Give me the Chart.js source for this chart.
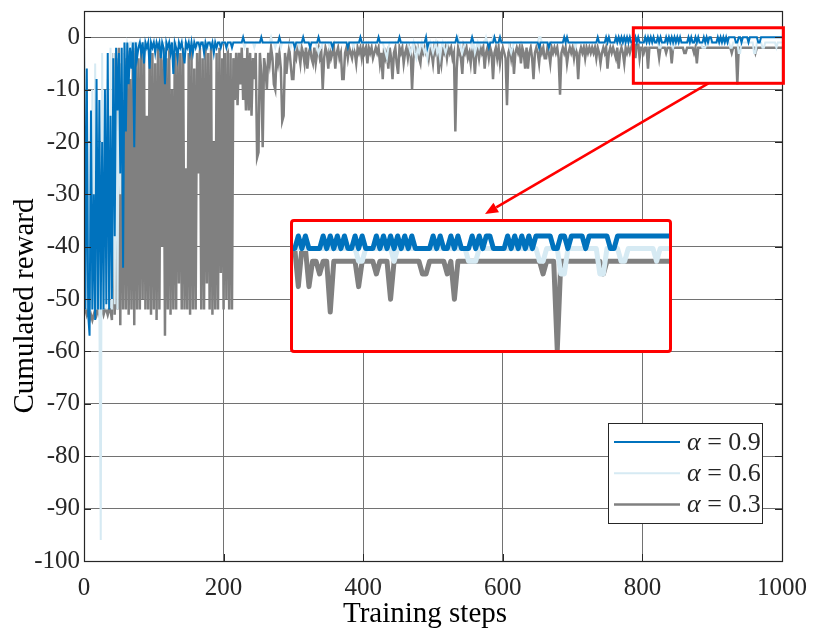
<!DOCTYPE html>
<html><head><meta charset="utf-8">
<script src="https://cdn.jsdelivr.net/npm/chart.js@4.4.0/dist/chart.umd.min.js"></script>
<style>
html,body{margin:0;padding:0;background:#fff;}
#wrap{position:relative;width:817px;height:632px;overflow:hidden;}
#main{position:absolute;left:0;top:0;}
#insetBox{position:absolute;left:290px;top:219px;width:376px;height:128px;border:3px solid #ff0000;border-radius:4px;background:#fff;}
#inset{position:absolute;left:0;top:0;}
</style></head>
<body>
<div id="wrap">
<canvas id="main" width="817" height="632"></canvas>
<div id="insetBox"><canvas id="inset" width="376" height="128"></canvas></div>
</div>
<script>
// ---- data (one value every 2 training steps, 0..1000) ----
const steps = Array.from({length: 501}, (_, i) => i * 2);
const seriesLabels = ['α = 0.9', 'α = 0.6', 'α = 0.3'];
const xTicks = [0, 200, 400, 600, 800, 1000];
const yTicks = [-100, -90, -80, -70, -60, -50, -40, -30, -20, -10, 0];

const alpha09 = [
-1,-52,-6,-53,-57,-14,-52,-30,-54,-8,
-52,-12,-52,-20,-52,-10,-51,-3,-52,-15,
-50,-4,-38,-2,-14,-3,-26,-2,-44,-1,
-18,-1,-9,-2,-6,-1,-21,-1,-4,-2,
-1,-3,-1,-5,-1,-2,-1,-6,-1,-2,
-1,-3,-1,-2,-1,-4,-1,-2,-9,-1,
-2,-1,-3,-1,-7,-1,-2,-4,-1,-2,
-1,-3,-5,-1,-2,-1,-3,-1,-3,-1,
-2,-1,-1,-2,-1,-1,-3,-1,-2,-1,
-1,-2,-1,-3,-1,-2,-1,-1,-2,-1,
-1,-1,-2,-1,-1,-1,-2,-1,-1,-1,
-1,-1,-1,-1,0,-1,-1,-1,-1,-1,
-1,-1,-1,-1,-1,-1,-1,0,-1,-1,
-1,-1,-1,-1,-1,-1,-1,-1,-1,-1,
0,-1,-1,-1,-1,-1,-1,-1,-1,-1,
-1,-2,-1,-1,-1,-1,-1,0,-1,-1,
-1,-1,-2,-1,-1,-1,-1,-1,0,-1,
-1,-1,-1,-1,-1,-1,-1,-1,-2,-1,
-1,-1,-1,-1,-1,-1,-1,-1,-1,-2,
-1,-1,-1,-1,-1,-1,-1,-1,0,-1,
-1,-1,-1,-1,-1,-1,-1,-1,-1,-1,
-1,0,-1,-1,-1,-1,-1,-1,-1,-1,
-1,-1,-1,-1,-1,-1,0,-1,-1,-1,
-1,-1,-1,-1,-1,-1,-1,-1,-1,-1,
-1,-1,-1,-1,-1,0,-2,-1,-1,-1,
-1,-1,-1,-1,-1,-1,-1,-1,-1,-1,
-1,-1,-1,-1,-1,-1,-1,0,-1,-1,
-1,-1,-1,-1,-1,-1,-1,-1,0,-1,
-1,-1,-1,-1,-1,-1,-1,-1,-1,-1,
-2,-1,-1,-1,0,-1,-1,-1,0,-1,
-1,-1,-1,-1,-1,-1,-1,-1,-1,-1,
-1,-1,-1,-1,-1,-1,-1,-1,-1,-1,
-1,-1,-1,-1,-1,-1,-2,-1,-1,-1,
-1,-1,-1,-2,-1,-1,-1,-1,-1,-1,
-1,-1,-1,-1,0,-1,0,-1,-1,-1,
-1,-1,-1,-1,-1,-1,-1,-1,-1,-1,
-1,-1,-1,-1,-1,-1,-1,-1,0,-1,
-1,-1,-1,-1,0,-1,0,-1,-1,-1,
-1,0,-1,0,-1,0,-1,0,-1,0,
-1,0,-1,-1,-1,0,-1,0,-1,-1,
-1,-1,0,-1,0,-1,0,-1,0,-1,
-1,0,-1,0,-1,-1,-1,0,-1,0,
-1,0,-1,0,-1,0,-1,0,-1,-1,
-1,-1,-1,0,-1,0,-1,-1,0,-1,
0,-1,-1,-1,0,-1,0,-1,0,0,
-1,-1,-1,-1,0,-1,0,-1,0,-1,
0,-1,0,0,0,0,0,-1,-1,0,
0,-1,0,0,0,0,-1,0,0,0,
0,0,0,-1,-1,0,0,0,0,0,
0,0,0,0,0,0,0,0,0,0,
0];

const alpha06 = [
-1,-52,-8,-52,-30,-52,-10,-52,-5,-52,
-20,-52,-96,-3,-52,-12,-52,-8,-50,-2,
-52,-3,-51,-6,-52,-4,-30,-2,-12,-1,
-4,-1,-2,-1,-1,-3,-1,-1,-2,-1,
-1,-2,-1,-1,-3,-1,-1,-2,-1,-1,
-1,-1,-2,-1,-1,-1,-3,-1,-1,-1,
-1,-2,-1,-1,-1,-2,-1,-1,-1,-1,
-1,-1,-1,-2,-1,-1,-1,-1,-2,-1,
-1,-1,-2,-1,-1,-1,-1,-1,-1,-2,
-1,-1,-1,-1,-2,-1,-1,-1,-1,-1,
-1,-1,-1,-2,-1,-1,-1,-1,-1,-1,
-1,-1,-1,-1,-1,-2,-1,-1,-1,-1,
-1,-1,-2,-1,-1,-1,-1,-1,-1,-1,
-1,-1,-1,-1,0,-1,-1,-2,-1,-1,
-1,-2,-1,-1,-1,-1,-1,-1,-2,-1,
-1,-1,-1,-1,-2,-1,-1,-1,-1,-1,
-1,-1,-1,-1,-1,-1,-1,-2,-3,-2,
-2,-1,-1,-1,-1,-1,-2,-1,-1,-1,
-1,-1,-1,-1,-1,-1,-1,-1,-1,-1,
-1,-1,-1,-2,-1,-1,-1,-1,-1,-1,
-1,-1,-1,-1,-1,-1,-1,-1,-1,-1,
-1,-1,-1,-1,-1,-2,-3,-4,-2,-1,
-1,-1,-1,-1,-1,-1,-1,-1,-1,-1,
-1,-1,-1,-2,-3,-2,-1,-3,-4,-2,
-3,-2,-1,-2,-3,-2,-4,-2,-1,-2,
-3,-2,-1,-3,-2,-4,-2,-1,-2,-3,
-2,-1,-1,-1,-1,-1,-1,-1,0,-1,
-2,-3,-2,-1,-1,-1,-1,-1,-2,-1,
-3,-2,-1,-2,-1,-1,-1,-1,0,-1,
-1,-1,-1,0,-1,-1,-1,-1,-1,-1,
-1,-1,-1,-1,-1,-2,-3,-2,-1,-1,
-1,-1,-1,-1,-1,-1,-1,-1,-1,-1,
-1,-1,-1,-1,-1,-1,0,0,-1,-1,
-1,-1,-1,-1,-1,-1,-1,-1,-1,-1,
-1,-1,-1,-1,-1,-1,-1,-1,-1,-1,
-1,-1,-2,-1,-1,-1,-1,-1,-1,-1,
-1,-1,-1,-1,-1,-1,-1,-1,-1,-1,
-1,-1,-1,-1,-1,-1,-1,-1,-1,-1,
-1,-1,-1,-1,-1,-1,-1,-1,-1,-1,
-1,-1,-1,-1,-1,-1,-1,-1,-1,-1,
-1,-1,-1,-1,-1,-1,-1,-1,-1,-1,
-1,-1,-2,-2,-1,-1,-1,-1,-1,-1,
-1,-1,-2,-1,-1,-1,-1,-1,-1,-1,
-1,-1,-1,-1,-1,-1,-1,-1,-1,-1,
-1,-1,-1,-2,-2,-2,-1,-1,-1,-1,
-1,-1,-1,-1,-1,-1,-1,-1,-1,-1,
-1,-1,-1,-2,-2,-1,-1,-1,-1,-3,
-3,-1,-1,-1,-1,-1,-1,-1,-1,-1,
-3,-3,-1,-1,-1,-1,-2,-2,-1,-1,
-1,-1,-1,-1,-1,-1,-2,-1,-1,-1,
-1];

const alpha03 = [
-52,-52,-53,-52,-54,-53,-54,-53,-52,-53,
-52,-53,-52,-52,-53,-52,-52,-53,-52,-52,
-54,-3,-53,-4,-52,-2,-55,-5,-52,-3,
-52,-2,-53,-8,-52,-3,-55,-2,-52,-4,
-52,-2,-50,-3,-52,-15,-52,-2,-53,-3,
-52,-5,-54,-2,-52,-3,-40,-2,-57,-4,
-52,-2,-53,-10,-52,-3,-52,-2,-47,-3,
-52,-2,-52,-25,-52,-3,-53,-2,-52,-6,
-52,-3,-26,-2,-52,-4,-52,-2,-47,-3,
-52,-2,-53,-20,-52,-3,-52,-2,-45,-4,
-52,-3,-50,-2,-52,-3,-52,-4,-12,-3,
-13,-3,-9,-2,-12,-4,-14,-2,-14,-3,
-15,-4,-8,-3,-23,-22,-3,-7,-21,-4,
-6,-10,-3,-5,-2,-4,-9,-10,-3,-5,
-3,-6,-16,-15,-3,-7,-4,-2,-5,-8,
-8,-3,-4,-2,-3,-5,-2,-3,-5,-2,
-6,-3,-2,-4,-5,-2,-5,-3,-2,-4,
-3,-10,-4,-2,-3,-6,-2,-4,-3,-2,
-6,-3,-2,-4,-3,-8,-8,-3,-2,-4,
-2,-3,-4,-2,-3,-5,-2,-3,-2,-4,
-2,-3,-2,-5,-2,-3,-2,-4,-3,-2,
-3,-2,-5,-3,-8,-2,-4,-3,-6,-2,
-4,-8,-3,-2,-5,-7,-2,-3,-2,-5,
-3,-2,-4,-2,-3,-10,-4,-2,-3,-2,
-4,-5,-2,-3,-2,-3,-2,-4,-2,-3,
-5,-2,-3,-2,-7,-3,-5,-2,-3,-2,
-4,-2,-3,-2,-4,-3,-18,-6,-2,-3,
-4,-7,-2,-3,-2,-4,-3,-5,-2,-3,
-7,-3,-2,-4,-2,-3,-2,-6,-3,-2,
-4,-2,-3,-8,-3,-2,-4,-2,-5,-3,
-2,-3,-4,-13,-3,-2,-4,-2,-7,-3,
-2,-3,-2,-5,-2,-3,-6,-2,-6,-3,
-2,-4,-8,-3,-2,-3,-5,-2,-3,-2,
-4,-4,-2,-3,-5,-2,-3,-2,-3,-2,
-4,-11,-3,-2,-3,-2,-5,-3,-2,-3,
-2,-4,-2,-3,-8,-3,-2,-3,-2,-4,
-2,-3,-2,-3,-2,-3,-2,-4,-2,-3,
-5,-3,-2,-3,-2,-6,-3,-2,-3,-2,
-3,-4,-2,-6,-3,-2,-3,-5,-2,-3,
-2,-3,-2,-1,-1,-4,-1,-1,-4,-2,
-2,-3,-2,-2,-6,-2,-2,-2,-2,-2,
-2,-2,-4,-2,-2,-2,-2,-3,-2,-2,
-2,-5,-2,-2,-2,-2,-2,-2,-2,-2,
-3,-3,-2,-2,-2,-2,-2,-3,-2,-5,
-2,-2,-2,-2,-2,-2,-2,-2,-2,-2,
-2,-2,-2,-2,-2,-2,-2,-2,-2,-2,
-2,-2,-2,-2,-3,-2,-2,-2,-9,-2,
-2,-2,-2,-2,-2,-2,-2,-2,-2,-2,
-2,-3,-2,-2,-2,-2,-2,-2,-2,-2,
-2,-2,-2,-2,-2,-2,-2,-2,-2,-2,
-2];

// zoomed window (data units) shown in the inset
const zoomX = [787, 1002];
const zoomY = [-8.8, 1.8];
const insetX = [787, 999];
const insetY = [-9.0, 1.1];

const colors = ['#0072BD', '#D6EAF3', '#808080'];
const seriesValues = [alpha09, alpha06, alpha03];
const toXY = vals => vals.map((v, i) => ({x: steps[i], y: v}));

const SERIF = 'Liberation Serif';
const INK = '#262626';
const GRID = '#727272';
Chart.defaults.font.family = SERIF;

function makeDatasets(widths) {
  return seriesValues.map((vals, k) => ({
    label: seriesLabels[k],
    data: toXY(vals),
    borderColor: colors[k],
    backgroundColor: colors[k],
    borderWidth: widths[k],
    pointRadius: 0,
    tension: 0,
    fill: false
  }));
}

const decorPlugin = {
  id: 'decor',
  afterDatasetsDraw(chart) {
    const ctx = chart.ctx, a = chart.chartArea;
    const xs = chart.scales.x, ys = chart.scales.y;
    ctx.save();
    // inward tick marks
    ctx.strokeStyle = INK; ctx.lineWidth = 1;
    ctx.beginPath();
    xTicks.forEach(v => {
      const px = Math.round(xs.getPixelForValue(v)) + 0.5;
      ctx.moveTo(px, a.bottom); ctx.lineTo(px, a.bottom - 7);
      ctx.moveTo(px, a.top); ctx.lineTo(px, a.top + 7);
    });
    yTicks.forEach(v => {
      const py = Math.round(ys.getPixelForValue(v)) + 0.5;
      ctx.moveTo(a.left, py); ctx.lineTo(a.left + 7, py);
      ctx.moveTo(a.right, py); ctx.lineTo(a.right - 7, py);
    });
    ctx.stroke();
    // frame
    ctx.strokeStyle = INK; ctx.lineWidth = 1.2;
    ctx.strokeRect(Math.round(a.left) + 0.5, Math.round(a.top) + 0.5,
                   Math.round(a.right - a.left), Math.round(a.bottom - a.top));
    // zoom rectangle
    const zx0 = xs.getPixelForValue(zoomX[0]), zx1 = xs.getPixelForValue(zoomX[1]);
    const zy0 = ys.getPixelForValue(zoomY[1]), zy1 = ys.getPixelForValue(zoomY[0]);
    ctx.strokeStyle = '#ff0000'; ctx.lineWidth = 3; ctx.lineJoin = 'miter';
    ctx.strokeRect(zx0, zy0, zx1 - zx0, zy1 - zy0);
    // arrow to inset
    const box = document.getElementById('insetBox');
    const sx = (zx0 + zx1) / 2, sy = zy1;
    const ex = box.offsetLeft + box.offsetWidth / 2 + 4, ey = box.offsetTop - 5;
    const ang = Math.atan2(ey - sy, ex - sx);
    const hl = 13, hw = 5.5;
    const bx = ex - hl * Math.cos(ang), by = ey - hl * Math.sin(ang);
    ctx.lineWidth = 2.6; ctx.lineCap = 'butt';
    ctx.beginPath(); ctx.moveTo(sx, sy); ctx.lineTo(bx, by); ctx.stroke();
    ctx.fillStyle = '#ff0000';
    ctx.beginPath();
    ctx.moveTo(ex, ey);
    ctx.lineTo(bx + hw * Math.sin(ang), by - hw * Math.cos(ang));
    ctx.lineTo(bx - hw * Math.sin(ang), by + hw * Math.cos(ang));
    ctx.closePath(); ctx.fill();
    // legend
    const lx = 608, ly = 423, lw = 154, lh = 100;
    ctx.fillStyle = '#fff';
    ctx.fillRect(lx, ly, lw, lh);
    ctx.strokeStyle = INK; ctx.lineWidth = 1;
    ctx.strokeRect(lx + 0.5, ly + 0.5, lw, lh);
    chart.data.datasets.forEach((ds, k) => {
      const y = ly + 19 + k * 31.3;
      ctx.strokeStyle = ds.borderColor; ctx.lineWidth = k === 2 ? 2.5 : 2;
      ctx.beginPath(); ctx.moveTo(lx + 6, y); ctx.lineTo(lx + 72, y); ctx.stroke();
      const lab = ds.label;
      ctx.fillStyle = INK; ctx.textBaseline = 'middle'; ctx.textAlign = 'left';
      ctx.font = 'italic 26px ' + SERIF;
      ctx.fillText(lab.charAt(0), lx + 79, y + 1);
      const w = ctx.measureText(lab.charAt(0)).width;
      ctx.font = '26px ' + SERIF;
      ctx.fillText(lab.slice(1), lx + 79 + w, y + 1);
    });
    // axis titles
    ctx.fillStyle = '#000';
    ctx.font = '29px ' + SERIF;
    ctx.textAlign = 'center'; ctx.textBaseline = 'alphabetic';
    ctx.fillText('Training steps', 425, 622);
    ctx.translate(33, 306); ctx.rotate(-Math.PI / 2);
    ctx.fillText('Cumulated reward', 0, 0);
    ctx.restore();
  }
};

new Chart(document.getElementById('main'), {
  type: 'line',
  data: {datasets: makeDatasets([2, 2, 2.5])},
  options: {
    responsive: false, animation: false, devicePixelRatio: 1,
    layout: {padding: {left: 0, right: 35, top: 11, bottom: 0}},
    plugins: {legend: {display: false}, tooltip: {enabled: false}},
    elements: {point: {radius: 0}},
    scales: {
      x: {
        type: 'linear', min: 0, max: 1000,
        afterBuildTicks: s => { s.ticks = xTicks.map(v => ({value: v})); },
        afterFit: s => { s.height = 71; s.paddingLeft = 0; s.paddingRight = 0; },
        grid: {color: GRID, lineWidth: 1, drawTicks: false},
        border: {display: false},
        ticks: {font: {family: SERIF, size: 25}, color: INK, padding: 12, maxRotation: 0,
                callback: v => String(v)}
      },
      y: {
        type: 'linear', min: -100, max: 5,
        afterBuildTicks: s => { s.ticks = yTicks.map(v => ({value: v})); },
        afterFit: s => { s.width = 84; s.paddingTop = 0; s.paddingBottom = 0; },
        grid: {color: GRID, lineWidth: 1, drawTicks: false},
        border: {display: false},
        ticks: {font: {family: SERIF, size: 25}, color: INK, padding: 4,
                callback: v => String(v)}
      }
    }
  },
  plugins: [decorPlugin]
});

new Chart(document.getElementById('inset'), {
  type: 'line',
  data: {datasets: makeDatasets([5, 5, 5])},
  options: {
    responsive: false, animation: false, devicePixelRatio: 1,
    layout: {padding: 0},
    plugins: {legend: {display: false}, tooltip: {enabled: false}},
    elements: {point: {radius: 0}, line: {borderJoinStyle: 'round', borderCapStyle: 'round'}},
    scales: {
      x: {type: 'linear', min: insetX[0], max: insetX[1], display: false},
      y: {type: 'linear', min: insetY[0], max: insetY[1], display: false}
    }
  }
});
</script>
</body></html>
